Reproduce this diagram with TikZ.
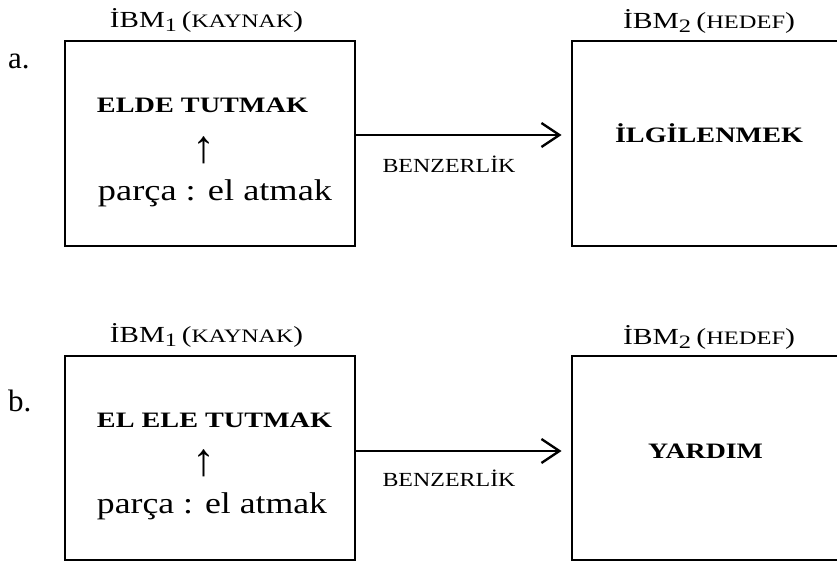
\documentclass[tikz,border=0pt]{standalone}
\usepackage{fontspec}
\usepackage{graphicx}
\setmainfont{Liberation Serif}
\usetikzlibrary{arrows.meta}

% stretch a piece of text horizontally to a given width, keeping its height
\newcommand{\wfit}[2]{\resizebox{#1}{\height}{#2}}
\newcommand{\fsz}[1]{\fontsize{#1}{#1}\selectfont}
% "İBM<sub> (<small caps label>)" heading above a box
\newcommand{\ibmhead}[2]{\fsz{23}İBM\raisebox{-4pt}{\fsz{19}#1}\hspace{4pt}(\fsz{19}#2\fsz{23})}

\begin{document}
\begin{tikzpicture}[x=1pt,y=-1pt,
    box/.style={draw=black, line width=2.8pt, rectangle, inner sep=0pt},
    conn/.style={draw=black, line width=2.4pt, -{Straight Barb[length=18pt,width=24pt,line width=2.4pt]}},
    txt/.style={inner sep=0pt, anchor=base}]
  \useasboundingbox (0,0) rectangle (837,563);
  \begin{scope}
    \clip (0,0) rectangle (837,563);

    % ---- row a ----
    \node[box, minimum width=290pt, minimum height=205pt] (srcA) at (210,143.5) {};
    \node[box, minimum width=300pt, minimum height=205pt] (tgtA) at (722,143.5) {};
    \node[txt, anchor=base west] (labA) at (8,68) {\fsz{31}a.};
    \node[txt] (headSA) at (206.5,27) {\wfit{193pt}{\ibmhead{1}{KAYNAK}}};
    \node[txt] (headTA) at (709,28) {\wfit{172pt}{\ibmhead{2}{HEDEF}}};
    \node[txt] (srcA1) at (202.5,112) {\wfit{211pt}{\fsz{22}\bfseries ELDE TUTMAK}};
    \node[txt] (srcA2) at (204,162) {\fsz{46}↑};
    \node[txt] (srcA3) at (215,200) {\wfit{234pt}{\fsz{30}parça : el atmak}};
    \node[txt] (tgtA1) at (709,142) {\wfit{188pt}{\fsz{22}\bfseries İLGİLENMEK}};
    \draw[conn] ([yshift=8.5pt]srcA.east) -- ([yshift=8.5pt,xshift=-9pt]tgtA.west);
    \node[txt] (simA) at (449,172) {\wfit{133pt}{\fsz{20}BENZERLİK}};

    % ---- row b ----
    \node[box, minimum width=290pt, minimum height=204pt] (srcB) at (210,458) {};
    \node[box, minimum width=300pt, minimum height=204pt] (tgtB) at (722,458) {};
    \node[txt, anchor=base west] (labB) at (8,411) {\fsz{31}b.};
    \node[txt] (headSB) at (206.5,342) {\wfit{193pt}{\ibmhead{1}{KAYNAK}}};
    \node[txt] (headTB) at (709,344) {\wfit{172pt}{\ibmhead{2}{HEDEF}}};
    \node[txt] (srcB1) at (214.5,427) {\wfit{235pt}{\fsz{22}\bfseries EL ELE TUTMAK}};
    \node[txt] (srcB2) at (204,475) {\fsz{46}↑};
    \node[txt] (srcB3) at (212,513) {\wfit{230pt}{\fsz{30}parça : el atmak}};
    \node[txt] (tgtB1) at (705.5,458) {\wfit{115pt}{\fsz{22}\bfseries YARDIM}};
    \draw[conn] ([yshift=7pt]srcB.east) -- ([yshift=7pt,xshift=-9pt]tgtB.west);
    \node[txt] (simB) at (449,486) {\wfit{133pt}{\fsz{20}BENZERLİK}};
  \end{scope}
\end{tikzpicture}
\end{document}
